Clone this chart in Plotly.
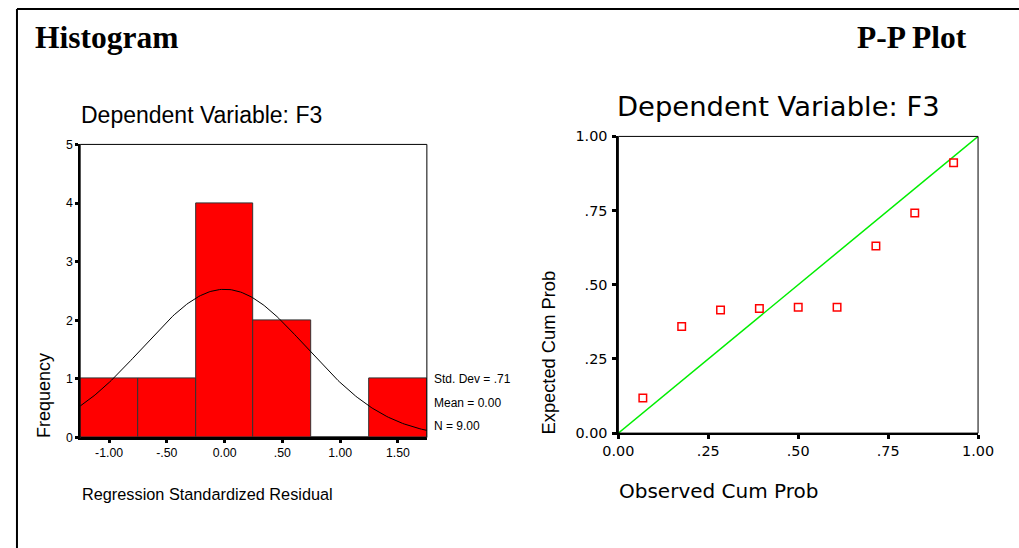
import numpy as np
import plotly.graph_objects as go

# The page keeps its default 8px body margin; positions below are given in
# photographed pixels and mapped through the measured page-to-photo scale.
PAGE_OFF = 8
W, H = 1036, 557
SCX, SCY, OX, OY = 0.97, 0.97, 7.0, 0.0

# ---- Histogram data ----
bin_centers = [-1.0, -0.5, 0.0, 0.5, 1.0, 1.5]
bin_counts = [1, 1, 4, 2, 0, 1]
bin_width = 0.5
hist_stats_mean = 0.00
hist_stats_sd = 0.71
hist_stats_n = 9
hist_xtick_vals = [-1.0, -0.5, 0.0, 0.5, 1.0, 1.5]
hist_xtick_text = ["-1.00", "-.50", "0.00", ".50", "1.00", "1.50"]
hist_ytick_vals = [0, 1, 2, 3, 4, 5]

# ---- P-P plot data ----
observed_cum = [0.068, 0.176, 0.284, 0.392, 0.500, 0.608, 0.716, 0.824, 0.932]
expected_cum = [0.118, 0.359, 0.415, 0.420, 0.424, 0.424, 0.631, 0.742, 0.911]
pp_tick_vals = [0.0, 0.25, 0.5, 0.75, 1.0]
pp_tick_text = ["0.00", ".25", ".50", ".75", "1.00"]

ARIAL = "Liberation Sans, Arial, sans-serif"
WIDE = "DejaVu Sans, Verdana, sans-serif"
SERIF = "Liberation Serif, Times New Roman, serif"

def px_x(p):
    f = (p - OX) / SCX - PAGE_OFF
    return max(0.0, min(1.0, f / W))

def px_y(p):
    f = (p - OY) / SCY - PAGE_OFF
    return max(0.0, min(1.0, 1 - f / H))

fig = go.Figure()

fig.add_trace(go.Bar(
    x=bin_centers, y=bin_counts, width=bin_width,
    marker=dict(color="#ff0000", line=dict(color="#333333", width=1)),
    xaxis="x", yaxis="y", showlegend=False, hoverinfo="skip"))

# normal curve from the stated statistics
xs = np.linspace(-1.25, 1.75, 200)
scale = hist_stats_n * bin_width / (hist_stats_sd * np.sqrt(2 * np.pi))
ys = scale * np.exp(-0.5 * ((xs - hist_stats_mean) / hist_stats_sd) ** 2)
fig.add_trace(go.Scatter(
    x=xs, y=ys, mode="lines", line=dict(color="black", width=1),
    xaxis="x", yaxis="y", showlegend=False, hoverinfo="skip"))

fig.add_trace(go.Scatter(
    x=[0, 1], y=[0, 1], mode="lines", line=dict(color="#00ee00", width=1.5),
    xaxis="x2", yaxis="y2", showlegend=False, hoverinfo="skip"))

fig.add_trace(go.Scatter(
    x=observed_cum, y=expected_cum, mode="markers",
    marker=dict(symbol="square-open", size=7.5, color="#ff0000", line=dict(width=1.5, color="#ff0000")),
    xaxis="x2", yaxis="y2", showlegend=False, hoverinfo="skip"))

axis_common = dict(showgrid=False, zeroline=False, showline=True, linecolor="black",
                   linewidth=2, ticks="outside", tickcolor="black", mirror=False)

fig.update_layout(
    width=W, height=H, margin=dict(l=0, r=0, t=0, b=0),
    paper_bgcolor="white", plot_bgcolor="white", bargap=0,
    xaxis=dict(domain=[px_x(79), px_x(426)], range=[-1.25, 1.75], anchor="y",
               tickvals=hist_xtick_vals, ticktext=hist_xtick_text, ticklen=3, tickwidth=3,
               tickfont=dict(family=ARIAL, size=12.3, color="black"), **axis_common),
    yaxis=dict(domain=[px_y(436.7), px_y(144)], range=[0, 5], anchor="x",
               tickvals=hist_ytick_vals, ticklen=3, tickwidth=3, ticklabelstandoff=0,
               tickfont=dict(family=ARIAL, size=12.3, color="black"), **axis_common),
    xaxis2=dict(domain=[px_x(617.7), px_x(977.7)], range=[0, 1], anchor="y2",
                tickvals=pp_tick_vals, ticktext=pp_tick_text, ticklen=4, tickwidth=3,
                ticklabeloverflow="allow",
                tickfont=dict(family=WIDE, size=14.4, color="black"), **axis_common),
    yaxis2=dict(domain=[px_y(432.3), px_y(136)], range=[0, 1], anchor="x2",
                tickvals=pp_tick_vals, ticktext=pp_tick_text, ticklen=4, tickwidth=3,
                ticklabelstandoff=2,
                tickfont=dict(family=WIDE, size=14.4, color="black"), **axis_common),
)

shapes = [
    # outer frame: top and left edges (frame continues past the page)
    dict(type="line", xref="paper", yref="paper", x0=1 / W, x1=1, y0=1 - 1 / H, y1=1 - 1 / H,
         line=dict(color="black", width=2)),
    dict(type="line", xref="paper", yref="paper", x0=1 / W, x1=1 / W, y0=0, y1=1 - 1 / H,
         line=dict(color="black", width=2)),
    # plot boxes
    dict(type="rect", xref="x domain", yref="y domain", x0=0, x1=1, y0=0, y1=1,
         line=dict(color="black", width=1), fillcolor="rgba(0,0,0,0)"),
    dict(type="rect", xref="x2 domain", yref="y2 domain", x0=0, x1=1, y0=0, y1=1,
         line=dict(color="black", width=1), fillcolor="rgba(0,0,0,0)"),
]
fig.update_layout(shapes=shapes)

def ann(text, x, y, size, family, xanchor="left", yanchor="middle", bold=False, angle=0):
    fig.add_annotation(text=text, x=px_x(x), y=px_y(y), xref="paper", yref="paper",
                       showarrow=False, xanchor=xanchor, yanchor=yanchor, textangle=angle,
                       font=dict(family=family, size=size, color="black",
                                 weight="bold" if bold else "normal"))

ann("Histogram", 32, 37, 31.5, SERIF, bold=True)
ann("P-P Plot", 969, 37, 31.5, SERIF, xanchor="right", bold=True)
ann("Dependent Variable: F3", 78, 115, 23, ARIAL)
ann("Dependent Variable: F3", 777.5, 106, 27.4, WIDE, xanchor="center")
ann("Frequency", 43, 395, 18, ARIAL, xanchor="center", angle=-90)
ann("Regression Standardized Residual", 79, 493, 16.3, ARIAL)
ann("Std. Dev = .71", 431, 378, 12, ARIAL)
ann("Mean = 0.00", 431, 402, 12, ARIAL)
ann("N = 9.00", 431, 425, 12, ARIAL)
ann("Observed Cum Prob", 616, 490, 20, WIDE)
ann("Expected Cum Prob", 548, 352, 18.3, ARIAL, xanchor="center", angle=-90)

fig.write_html("out.html")
